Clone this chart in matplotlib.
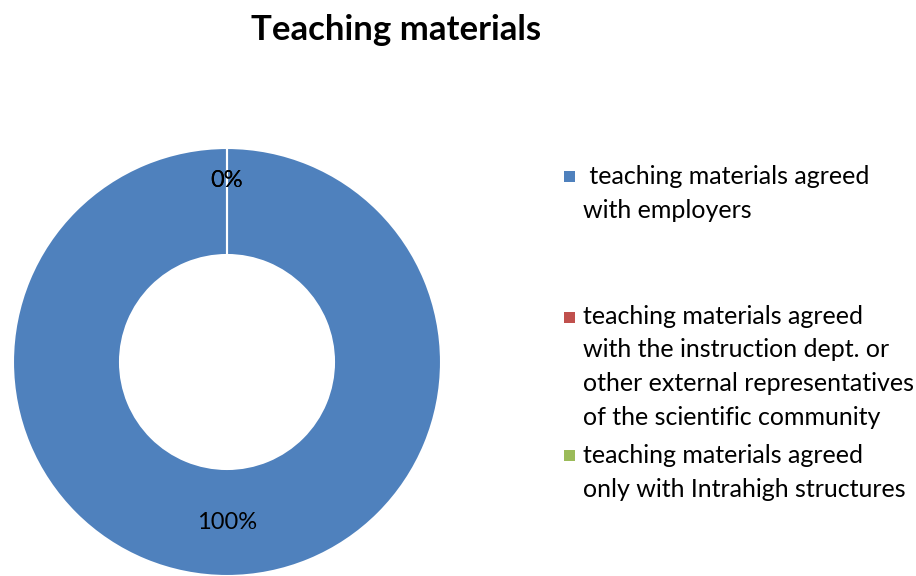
import matplotlib
matplotlib.use('Agg')
import matplotlib.pyplot as plt
from matplotlib.patches import Rectangle

plt.rcParams['font.family'] = ['Lato', 'DejaVu Sans']

title = 'Teaching materials'
categories = [' teaching materials agreed\nwith employers',
              'teaching materials agreed\nwith the instruction dept. or\nother external representatives\nof the scientific community',
              'teaching materials agreed\nonly with Intrahigh structures']
values = [100, 0, 0]
colors = ['#4F81BD', '#C0504D', '#9BBB59']

# legend layout (figure pixels from top, baseline of first line)
legend_base_y = [185, 326, 464]
line_px = 33

W, H = 916, 576
fig = plt.figure(figsize=(W / 100, H / 100), dpi=100)

ax = fig.add_axes([13 / W, 0, 428 / W, 428 / H])
wedges, texts, autotexts = ax.pie(values, colors=colors, startangle=90, counterclock=False,
                                  radius=1.0, autopct='%1.0f%%', pctdistance=0.75,
                                  wedgeprops=dict(width=0.5, edgecolor='white', linewidth=1.5),
                                  textprops=dict(fontsize=17, color='black'))
# Excel nudges the tiny-slice labels a bit further out
for v, t in zip(values, autotexts):
    if v == 0:
        x, y = t.get_position()
        t.set_position((x * 0.85 / 0.75, y * 0.85 / 0.75))
ax.set_xlim(-1.0, 1.0)
ax.set_ylim(-1.0, 1.0)
ax.set_aspect('equal')
ax.axis('off')

fig.text(396 / W, 1 - 30 / H, title, ha='center', va='center', fontsize=25, fontweight='bold')

for lab, col, by in zip(categories, colors, legend_base_y):
    fig.patches.append(Rectangle((564 / W, 1 - (by - 3) / H), 11 / W, 11 / H,
                                 transform=fig.transFigure, facecolor=col, edgecolor='none'))
    # multi-line baseline alignment uses the last line
    last = by + lab.count('\n') * line_px
    fig.text(583 / W, 1 - last / H, lab, ha='left', va='baseline', fontsize=18, linespacing=1.57)

fig.savefig('out.png', dpi=100)
